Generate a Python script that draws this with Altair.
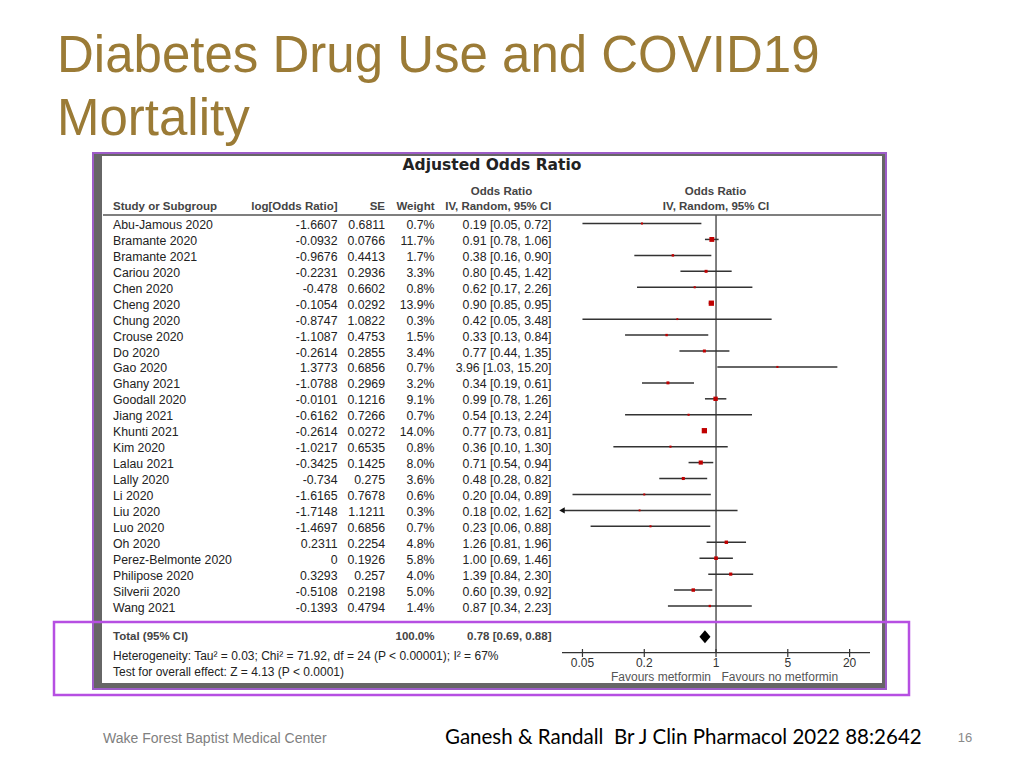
import altair as alt
import pandas as pd

# ---------------- data ----------------
studies = ["Abu-Jamous 2020", "Bramante 2020", "Bramante 2021", "Cariou 2020", "Chen 2020",
           "Cheng 2020", "Chung 2020", "Crouse 2020", "Do 2020", "Gao 2020", "Ghany 2021",
           "Goodall 2020", "Jiang 2021", "Khunti 2021", "Kim 2020", "Lalau 2021", "Lally 2020",
           "Li 2020", "Liu 2020", "Luo 2020", "Oh 2020", "Perez-Belmonte 2020", "Philipose 2020",
           "Silverii 2020", "Wang 2021"]
log_or = ["-1.6607", "-0.0932", "-0.9676", "-0.2231", "-0.478", "-0.1054", "-0.8747", "-1.1087",
          "-0.2614", "1.3773", "-1.0788", "-0.0101", "-0.6162", "-0.2614", "-1.0217", "-0.3425",
          "-0.734", "-1.6165", "-1.7148", "-1.4697", "0.2311", "0", "0.3293", "-0.5108", "-0.1393"]
se = ["0.6811", "0.0766", "0.4413", "0.2936", "0.6602", "0.0292", "1.0822", "0.4753", "0.2855",
      "0.6856", "0.2969", "0.1216", "0.7266", "0.0272", "0.6535", "0.1425", "0.275", "0.7678",
      "1.1211", "0.6856", "0.2254", "0.1926", "0.257", "0.2198", "0.4794"]
weight = [0.7, 11.7, 1.7, 3.3, 0.8, 13.9, 0.3, 1.5, 3.4, 0.7, 3.2, 9.1, 0.7, 14.0, 0.8, 8.0, 3.6,
          0.6, 0.3, 0.7, 4.8, 5.8, 4.0, 5.0, 1.4]
odds = [0.19, 0.91, 0.38, 0.80, 0.62, 0.90, 0.42, 0.33, 0.77, 3.96, 0.34, 0.99, 0.54, 0.77, 0.36,
        0.71, 0.48, 0.20, 0.18, 0.23, 1.26, 1.00, 1.39, 0.60, 0.87]
ci_lo = [0.05, 0.78, 0.16, 0.45, 0.17, 0.85, 0.05, 0.13, 0.44, 1.03, 0.19, 0.78, 0.13, 0.73, 0.10,
         0.54, 0.28, 0.04, 0.02, 0.06, 0.81, 0.69, 0.84, 0.39, 0.34]
ci_hi = [0.72, 1.06, 0.90, 1.42, 2.26, 0.95, 3.48, 0.84, 1.35, 15.20, 0.61, 1.26, 2.24, 0.81, 1.30,
         0.94, 0.82, 0.89, 1.62, 0.88, 1.96, 1.46, 2.30, 0.92, 2.23]
total_or = [0.78]
total_lo = [0.69]
total_hi = [0.88]
null_or = [1]
tick_values = [0.05, 0.2, 1, 5, 20]
tick_labels = ["0.05", "0.2", "1", "5", "20"]
axis_limits = [0.0316, 31.6]

df = pd.DataFrame({
    "row": list(range(len(studies))),
    "study": studies, "logor": log_or, "se": se, "weight": weight,
    "or": odds, "lo": ci_lo, "hi": ci_hi,
})
df["wtxt"] = [f"{w:.1f}%" for w in weight]
df["citxt"] = [f"{o:.2f} [{l:.2f}, {h:.2f}]" for o, l, h in zip(odds, ci_lo, ci_hi)]

# ---------------- scales ----------------
XS = alt.Scale(type="log", domain=axis_limits, range=[554, 862], clamp=True)
YS = alt.Scale(domain=[0, 24], range=[215.5, 598])
FONT = "Liberation Sans"


def xq(field):
    return alt.X(field, type="quantitative", scale=XS, axis=None)


def yrow():
    return alt.Y("row:Q", scale=YS, axis=None)


def label(text, x, y, size=12, weight="normal", color="#222", align="left",
          font=FONT, baseline="middle"):
    return alt.Chart(pd.DataFrame({"t": [text]})).mark_text(
        align=align, baseline=baseline, fontSize=size, fontWeight=weight,
        color=color, font=font
    ).encode(x=alt.value(x), y=alt.value(y), text="t:N")


def box(x, y, x2, y2, color, filled=True, sw=2):
    d = pd.DataFrame({"k": [0]})
    if filled:
        m = alt.Chart(d).mark_rect(color=color)
    else:
        m = alt.Chart(d).mark_rect(filled=False, stroke=color, strokeWidth=sw)
    return m.encode(x=alt.value(x), x2=alt.value(x2), y=alt.value(y), y2=alt.value(y2))


layers = []

# ---- slide title ----
GOLD = "#9B7B36"
layers.append(label("Diabetes Drug Use and COVID19", 49, 64, size=51, color=GOLD,
                    baseline="alphabetic"))
layers.append(label("Mortality", 49, 127, size=51, color=GOLD, baseline="alphabetic"))

# ---- screenshot frame: gray bands ----
GRAY = "#666666"
layers.append(box(86, 146, 94, 680, GRAY))      # left band
layers.append(box(86, 146, 877, 148, GRAY))     # top band
layers.append(box(874, 146, 877, 680, GRAY))    # right band
layers.append(box(86, 675, 877, 680, GRAY))     # bottom band

# ---- panel headers ----
HC = "#444"
layers.append(label("Adjusted Odds Ratio", 484, 157, size=15.5, weight="bold", color="#222",
                    align="center", font="DejaVu Sans"))
layers.append(label("Study or Subgroup", 105, 199, size=11.5, weight="bold", color=HC))
layers.append(label("log[Odds Ratio]", 329.5, 199, size=11.5, weight="bold", color=HC, align="right"))
layers.append(label("SE", 377, 199, size=11.5, weight="bold", color=HC, align="right"))
layers.append(label("Weight", 426.5, 199, size=11.5, weight="bold", color=HC, align="right"))
layers.append(label("Odds Ratio", 493.5, 183.5, size=11.5, weight="bold", color=HC, align="center"))
layers.append(label("IV, Random, 95% CI", 543.5, 199, size=11.5, weight="bold", color=HC, align="right"))
layers.append(label("Odds Ratio", 707.5, 183.5, size=11.5, weight="bold", color=HC, align="center"))
layers.append(label("IV, Random, 95% CI", 708, 199, size=11.5, weight="bold", color=HC, align="center"))

# header underline
layers.append(alt.Chart(pd.DataFrame({"k": [0]})).mark_rule(color="#555", strokeWidth=1.5).encode(
    x=alt.value(95), x2=alt.value(873), y=alt.value(207)))

# ---- table columns ----
base = alt.Chart(df)
TXT = "#222"
TS = 12.3
layers.append(base.mark_text(align="left", baseline="middle", fontSize=TS, font=FONT, color=TXT, dy=1.5)
              .encode(x=alt.value(105), y=yrow(), text="study:N"))
layers.append(base.mark_text(align="right", baseline="middle", fontSize=TS, font=FONT, color=TXT, dy=1.5)
              .encode(x=alt.value(329.5), y=yrow(), text="logor:N"))
layers.append(base.mark_text(align="right", baseline="middle", fontSize=TS, font=FONT, color=TXT, dy=1.5)
              .encode(x=alt.value(377), y=yrow(), text="se:N"))
layers.append(base.mark_text(align="right", baseline="middle", fontSize=TS, font=FONT, color=TXT, dy=1.5)
              .encode(x=alt.value(426.5), y=yrow(), text="wtxt:N"))
layers.append(base.mark_text(align="right", baseline="middle", fontSize=TS, font=FONT, color=TXT, dy=1.5)
              .encode(x=alt.value(543.5), y=yrow(), text="citxt:N"))

# ---- forest plot ----
# null line
layers.append(alt.Chart(pd.DataFrame({"v": null_or})).mark_rule(color="#555", strokeWidth=1.5).encode(
    x=xq("v"), y=alt.value(207), y2=alt.value(645)))
# CI lines
layers.append(base.mark_rule(color="#333", strokeWidth=1.5).encode(
    x=xq("lo"), x2="hi:Q", y=yrow()))
# clipped arrow
layers.append(base.transform_filter(f"datum.lo < {axis_limits[0]}").mark_point(
    shape="triangle-left", filled=True, color="#111", size=40, opacity=1).encode(
    x=xq("lo"), y=yrow()))
# squares
layers.append(base.mark_square(color="#c00000", opacity=1).encode(
    x=xq("or"), y=yrow(),
    size=alt.Size("weight:Q", scale=alt.Scale(domain=[0, 14], range=[3, 28]), legend=None)))

# total diamond
tot = pd.DataFrame({"or": total_or, "lo": total_lo, "hi": total_hi})
layers.append(alt.Chart(tot).mark_point(
    shape="M-0.85,0L0,-1L0.85,0L0,1Z", filled=True, color="#000", size=169, opacity=1).encode(
    x=xq("or"), y=alt.value(628.7)))

# axis
ax = pd.DataFrame({"a": [axis_limits[0]], "b": [axis_limits[1]]})
layers.append(alt.Chart(ax).mark_rule(color="#333", strokeWidth=1.2).encode(
    x=xq("a"), x2="b:Q", y=alt.value(644.7)))
tk = pd.DataFrame({"v": tick_values, "lab": tick_labels})
layers.append(alt.Chart(tk).mark_rule(color="#333", strokeWidth=1.2).encode(
    x=xq("v"), y=alt.value(641), y2=alt.value(649)))
layers.append(alt.Chart(tk).mark_text(baseline="middle", align="center", fontSize=12, font=FONT,
                                      color="#333").encode(
    x=xq("v"), y=alt.value(655), text="lab:N"))
layers.append(label("Favours metformin", 703, 669, size=12, color="#555", align="right"))
layers.append(label("Favours no metformin", 713.5, 669, size=12, color="#555", align="left"))

# ---- totals ----
layers.append(label("Total (95% CI)", 105, 629, size=11.5, weight="bold", color=HC))
layers.append(label("100.0%", 426.5, 629, size=11.5, weight="bold", color=HC, align="right"))
layers.append(label("0.78 [0.69, 0.88]", 543.5, 629, size=11.5, weight="bold", color=HC, align="right"))
layers.append(label("Heterogeneity: Tau\u00b2 = 0.03; Chi\u00b2 = 71.92, df = 24 (P < 0.00001); I\u00b2 = 67%",
                    105, 647.5, size=12, color=TXT))
layers.append(label("Test for overall effect: Z = 4.13 (P < 0.0001)", 105, 663.5, size=12, color=TXT))

# ---- purple highlight frames ----
layers.append(box(85, 145, 878, 681, "#9d5cc8", filled=False, sw=2))
layers.append(box(46, 614, 901, 687, "#b64fe2", filled=False, sw=2.5))

# ---- footer ----
layers.append(label("Wake Forest Baptist Medical Center", 95, 731, size=14, color="#808080"))
layers.append(label("Ganesh & Randall\u00a0 Br J Clin Pharmacol 2022 88:2642", 437, 730, size=20.5,
                    color="#000", font="Lato"))
layers.append(label("16", 957, 730, size=13, color="#8a8a8a", align="center"))

chart = alt.layer(*layers).properties(
    width=1008, height=752, padding=0, background="white",
    autosize=alt.AutoSizeParams(type="none")
).configure_view(stroke=None)

chart.save("out.html", embed_options={"renderer": "svg", "actions": False})
